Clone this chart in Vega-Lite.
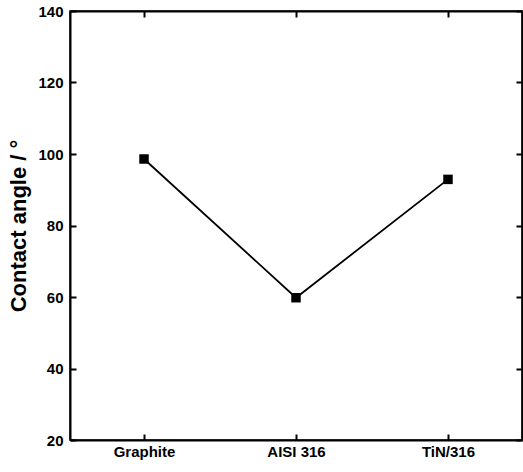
{
  "$schema": "https://vega.github.io/schema/vega-lite/v6.json",
  "width": 452,
  "height": 429,
  "autosize": {"type": "none"},
  "padding": {"left": 70, "top": 11, "right": 1, "bottom": 32},
  "background": "white",
  "config": {
    "view": {"stroke": "black", "strokeWidth": 1.5},
    "axis": {
      "domainColor": "black",
      "domainWidth": 2,
      "tickColor": "black",
      "tickWidth": 2,
      "tickSize": -6,
      "grid": false,
      "labelFont": "Liberation Sans",
      "labelFontWeight": "bold",
      "labelFontSize": 15,
      "labelColor": "black",
      "titleFont": "Liberation Sans",
      "titleFontWeight": "bold",
      "titleFontSize": 22,
      "titleColor": "black"
    }
  },
  "data": {
    "values": [
      {"material": "Graphite", "angle": 98.6},
      {"material": "AISI 316", "angle": 59.8},
      {"material": "TiN/316", "angle": 92.9}
    ]
  },
  "layer": [
    {
      "mark": {"type": "line", "color": "black", "strokeWidth": 1.8},
      "encoding": {
        "x": {
          "field": "material", "type": "nominal", "sort": null,
          "scale": {"type": "point", "padding": 0.487},
          "axis": {"orient": "bottom", "title": null, "labelAngle": 0, "labelPadding": 10}
        },
        "y": {
          "field": "angle", "type": "quantitative",
          "scale": {"domain": [20, 140], "nice": false, "zero": false},
          "axis": {"orient": "left", "title": "Contact angle / °", "values": [20, 40, 60, 80, 100, 120, 140], "labelPadding": 13, "titlePadding": 7}
        }
      }
    },
    {
      "mark": {"type": "square", "color": "black", "opacity": 1, "size": 90, "filled": true},
      "encoding": {
        "x": {
          "field": "material", "type": "nominal", "sort": null,
          "scale": {"type": "point", "padding": 0.487},
          "axis": {"orient": "top", "title": null, "labels": false}
        },
        "y": {
          "field": "angle", "type": "quantitative",
          "scale": {"domain": [20, 140], "nice": false, "zero": false},
          "axis": {"orient": "right", "title": null, "labels": false, "values": [20, 40, 60, 80, 100, 120, 140]}
        }
      }
    }
  ],
  "resolve": {"axis": {"x": "independent", "y": "independent"}}
}
